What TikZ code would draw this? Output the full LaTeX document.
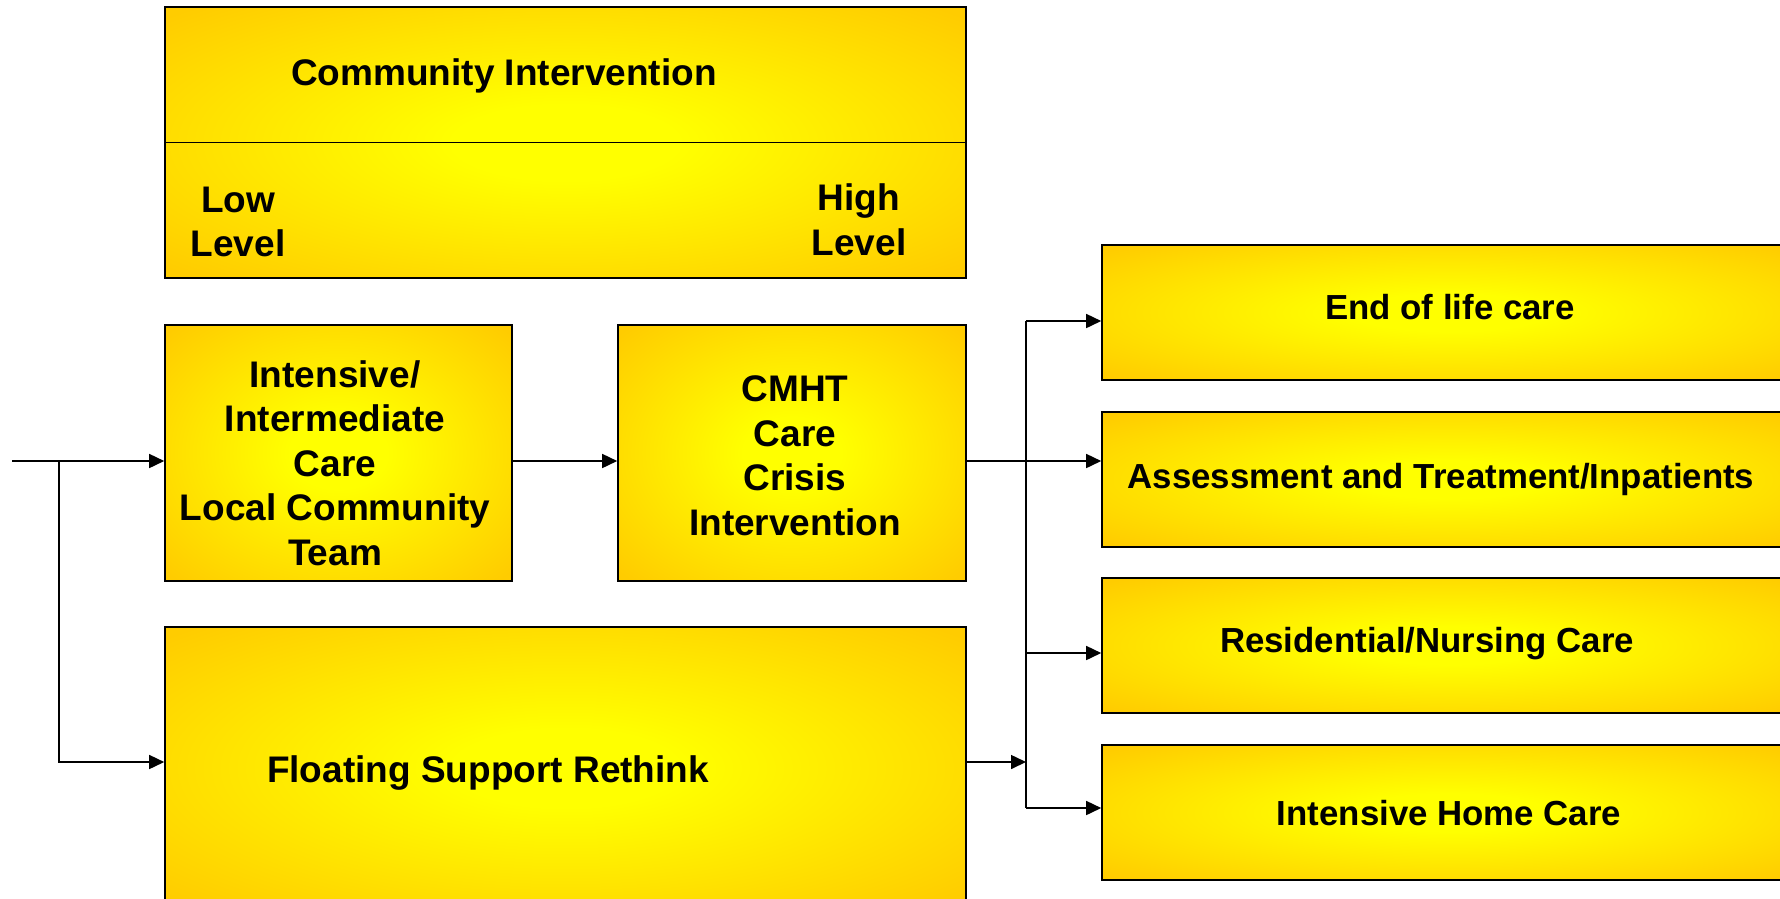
\documentclass[tikz,border=0pt]{standalone}
\usepackage{fontspec}
\setmainfont{Liberation Sans}
\usepackage{tikz}
\usetikzlibrary{arrows.meta}
\usepackage{color}
\definecolor{boxgold}{HTML}{FFCC00}
\definecolor{boxlemon}{HTML}{FFFF00}
\pgfdeclareradialshading{glow}{\pgfpoint{0bp}{0bp}}{color(0bp)=(boxlemon); color(7bp)=(boxlemon); color(34bp)=(boxgold); color(50bp)=(boxgold)}
\tikzset{
    box/.style={draw, line width=1.6pt, shading=glow, inner sep=0pt},
    lbl/.style={align=center, inner sep=0pt, font=\bfseries\fontsize{37}{44.5}\selectfont},
    small lbl/.style={lbl, font=\bfseries\fontsize{34.8}{42}\selectfont},
    wire/.style={line width=1.6pt},
    arr/.style={wire, -{Triangle[length=15pt,width=14pt]}}
}

\begin{document}
\begin{tikzpicture}[x=1pt,y=-1pt]
    \useasboundingbox (0,0) rectangle (1780,898);
    \clip (0,0) rectangle (1780,898);
    % left column
    \node[box, minimum width=801, minimum height=271] (top) at (565.5,142.5) {};
    \draw[wire] (top.west)--(top.east);
    \node[lbl] (topname) at (504,76) {Community Intervention};
    \node[lbl] (low) at (238,222) {Low\\Level};
    \node[lbl] (high) at (859,220) {High\\Level};
    \node[box, minimum width=347, minimum height=256] (intens) at (338.5,453) {};
    \node[lbl] at (335,463) {Intensive/\\Intermediate\\Care\\Local Community\\Team};
    \node[box, minimum width=348, minimum height=256] (cmht) at (792,453) {};
    \node[lbl] at (795,456) {CMHT\\Care\\Crisis\\Intervention};
    \node[box, minimum width=801, minimum height=282] (float) at (565.5,768) {};
    \node[lbl] at (488,773) {Floating Support Rethink};
    % right column
    \foreach \name/\y/\tx/\ty/\txt in {eol/312.5/1450/307/{End of life care},
        assess/479.5/1441/479/{Assessment and Treatment/Inpatients},
        resid/645.5/1427/644/{Residential/Nursing Care},
        home/812.5/1449/813/{Intensive Home Care}}
    {
    \node[box, minimum width=696, minimum height=135] (\name) at (1450,\y) {};
    \node[small lbl] at (\tx,\ty) {\txt};
    }
    % connectors
    \coordinate (in) at (12,461);
    \coordinate (split) at (59,461);
    \coordinate (bustop) at (1026,321);
    \coordinate (busbot) at (1026,808);
    \draw[arr] (in)--(in -| intens.west);
    \draw[arr] (split) |- ([yshift=6pt]float.west);
    \draw[arr] (intens.east |- in)--(cmht.west |- in);
    \draw[arr] (cmht.east |- in)--(assess.west |- in);
    \draw[arr] ([yshift=6pt]float.east)--([yshift=6pt]float.east -| bustop);
    \draw[wire] (bustop)--(busbot);
    \foreach \b/\y in {eol/321,resid/653,home/808}
    \draw[arr] (bustop |- 0,\y)--(\b.west |- 0,\y);
\end{tikzpicture}
\end{document}
